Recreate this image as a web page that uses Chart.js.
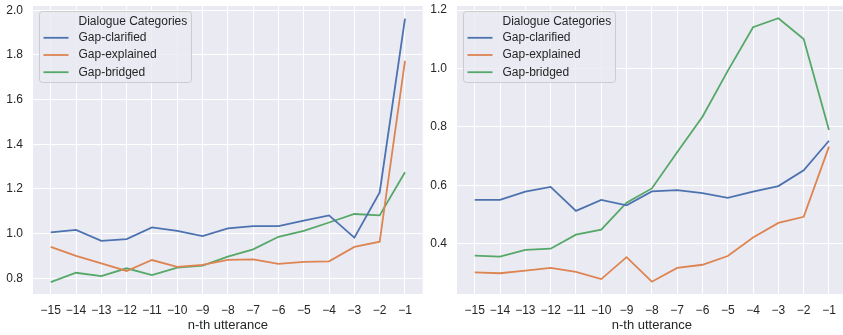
<!DOCTYPE html>
<html>
<head>
<meta charset="utf-8">
<script src="https://cdn.jsdelivr.net/npm/chart.js@4.4.0/dist/chart.umd.min.js"></script>
<style>
html, body { margin: 0; padding: 0; background: #fff; overflow: hidden; }
#wrap { position: relative; width: 843px; height: 335px; overflow: hidden; }
.panel { position: absolute; top: 0; width: 430px; height: 335px; }
</style>
</head>
<body>
<div id="wrap">
  <div class="panel" style="left:0"><canvas id="leftChart"></canvas></div>
  <div class="panel" style="left:424px"><canvas id="rightChart"></canvas></div>
</div>
<script>
const utterances = [-15, -14, -13, -12, -11, -10, -9, -8, -7, -6, -5, -4, -3, -2, -1];
const seriesNames = ['Gap-clarified', 'Gap-explained', 'Gap-bridged'];
const legendTitle = 'Dialogue Categories';
const xTitle = 'n-th utterance';

// left panel
const leftClarified = [1.006, 1.017, 0.968, 0.976, 1.028, 1.013, 0.989, 1.024, 1.034, 1.034, 1.058, 1.082, 0.982, 1.185, 1.963];
const leftExplained = [0.941, 0.901, 0.867, 0.833, 0.882, 0.851, 0.860, 0.883, 0.885, 0.865, 0.874, 0.876, 0.941, 0.964, 1.773];
const leftBridged = [0.783, 0.825, 0.810, 0.845, 0.815, 0.848, 0.857, 0.897, 0.930, 0.986, 1.013, 1.050, 1.088, 1.082, 1.275];
const leftYTicks = [0.8, 1.0, 1.2, 1.4, 1.6, 1.8, 2.0];

// right panel
const rightClarified = [0.551, 0.551, 0.579, 0.595, 0.513, 0.551, 0.532, 0.580, 0.584, 0.574, 0.558, 0.579, 0.598, 0.652, 0.753];
const rightExplained = [0.303, 0.300, 0.309, 0.318, 0.305, 0.280, 0.355, 0.271, 0.318, 0.329, 0.359, 0.422, 0.472, 0.493, 0.733];
const rightBridged = [0.360, 0.357, 0.380, 0.384, 0.432, 0.449, 0.541, 0.590, 0.714, 0.835, 0.992, 1.141, 1.172, 1.101, 0.790];
const rightYTicks = [0.4, 0.6, 0.8, 1.0, 1.2];

const colors = ['#4c72b0', '#dd8452', '#55a868'];
const textColor = '#262626';
const font = { family: '"Liberation Sans", Arial, sans-serif', size: 12 };

Chart.defaults.font.family = font.family;
Chart.defaults.font.size = font.size;
Chart.defaults.color = textColor;

// seaborn style grey plot area
const plotBg = {
    id: 'plotBg',
    beforeDraw(chart) {
        const { ctx, chartArea: a } = chart;
        ctx.save();
        ctx.fillStyle = '#eaeaf2';
        ctx.fillRect(a.left, a.top, a.right - a.left, a.bottom - a.top);
        ctx.restore();
    }
};

// legend box in the upper left corner, title as first row
const boxLegend = {
    id: 'boxLegend',
    afterDatasetsDraw(chart) {
        const { ctx, chartArea: a } = chart;
        const x = a.left + 6.5, y = a.top + 5.5, w = 152, h = 71;
        ctx.save();
        ctx.beginPath();
        ctx.roundRect(x, y, w, h, 3);
        ctx.fillStyle = 'rgba(234,234,242,0.8)';
        ctx.fill();
        ctx.strokeStyle = '#cccccc';
        ctx.lineWidth = 1;
        ctx.stroke();
        ctx.font = font.size + 'px ' + font.family;
        ctx.fillStyle = textColor;
        ctx.textBaseline = 'middle';
        ctx.fillText(legendTitle, x + 39, y + 10.3);
        chart.data.datasets.forEach((ds, i) => {
            const ly = y + 26.3 + i * 17.2;
            ctx.strokeStyle = ds.borderColor;
            ctx.lineWidth = 1.8;
            ctx.beginPath();
            ctx.moveTo(x + 4, ly);
            ctx.lineTo(x + 29, ly);
            ctx.stroke();
            ctx.fillText(ds.label, x + 39, ly);
        });
        ctx.restore();
    }
};

const minus = v => (v < 0 ? '\u2212' : '') + Math.abs(v);

function makeChart(id, series, yTicks, yMin, yMax) {
    const ctx = document.getElementById(id).getContext('2d');
    return new Chart(ctx, {
        type: 'line',
        data: {
            datasets: series.map((vals, i) => ({
                label: seriesNames[i],
                data: utterances.map((u, j) => ({ x: u, y: vals[j] })),
                borderColor: colors[i],
                backgroundColor: colors[i],
                borderWidth: 1.8,
                pointRadius: 0,
                tension: 0
            }))
        },
        options: {
            responsive: true,
            maintainAspectRatio: false,
            animation: false,
            layout: { padding: { top: 6, right: 7.3, left: 0, bottom: 0 } },
            plugins: {
                legend: { display: false },
                tooltip: { enabled: false }
            },
            scales: {
                x: {
                    type: 'linear',
                    min: -15.7,
                    max: -0.3,
                    border: { display: false },
                    grid: { color: '#ffffff', lineWidth: 1, drawTicks: false },
                    afterBuildTicks: s => { s.ticks = utterances.map(v => ({ value: v })); },
                    afterFit: s => { s.height = 41; s.paddingLeft = 0; s.paddingRight = 0; },
                    ticks: { padding: 9.5, maxRotation: 0, autoSkip: false, callback: v => minus(v) },
                    title: { display: true, text: xTitle, font: { size: 13 }, padding: { top: 0, bottom: 2 } }
                },
                y: {
                    min: yMin,
                    max: yMax,
                    border: { display: false },
                    grid: { color: '#ffffff', lineWidth: 1, drawTicks: false },
                    afterBuildTicks: s => { s.ticks = yTicks.map(v => ({ value: v })); },
                    afterFit: s => { s.width = 33; s.paddingTop = 0; s.paddingBottom = 0; },
                    ticks: { padding: 10, callback: v => v.toFixed(1) }
                }
            }
        },
        plugins: [plotBg, boxLegend]
    });
}

makeChart('leftChart', [leftClarified, leftExplained, leftBridged], leftYTicks, 0.730, 2.019);
makeChart('rightChart', [rightClarified, rightExplained, rightBridged], rightYTicks, 0.229, 1.2137);
</script>
</body>
</html>
